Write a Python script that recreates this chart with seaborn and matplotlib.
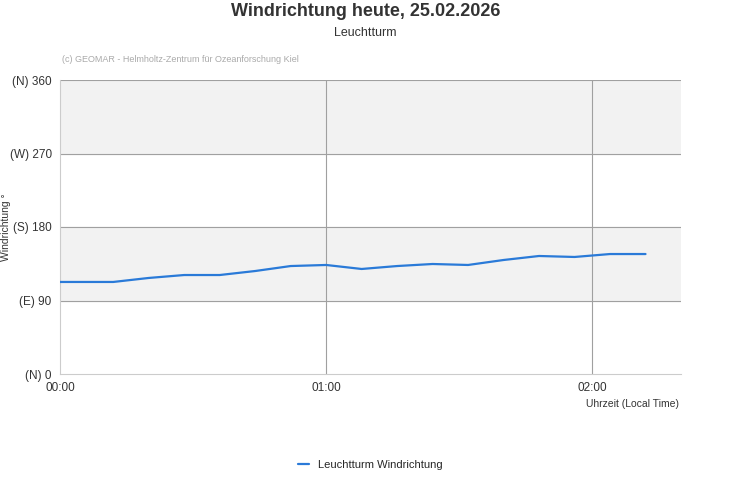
import pandas as pd
import seaborn as sns
from matplotlib import pyplot as plt

sns.set_style("white")
plt.rcParams['font.family'] = ['Liberation Sans', 'DejaVu Sans']

# minutes after 00:00 and wind direction in degrees
minutes = [0, 12, 20, 28, 36, 44, 52, 60, 68, 76, 84, 92, 100, 108, 116, 124, 132]
direction = [112.7, 112.7, 117.6, 121.2, 121.2, 126.1, 132.2, 133.5, 128.6, 132.2,
             134.7, 133.5, 139.6, 144.5, 143.3, 146.9, 146.9]
ytick_vals = [0, 90, 180, 270, 360]
ytick_labels = ["(N) 0", "(E) 90", "(S) 180", "(W) 270", "(N) 360"]
xtick_vals = [0, 60, 120]
xtick_labels = ["00:00", "01:00", "02:00"]

df = pd.DataFrame({"t": minutes, "dir": direction})

fig = plt.figure(figsize=(7.31, 5.0), dpi=100)
ax = fig.add_axes([60 / 731, 1 - 374 / 500, 621 / 731, 294 / 500])

ax.axhspan(270, 360, color="#f2f2f2", zorder=0)
ax.axhspan(90, 180, color="#f2f2f2", zorder=0)
for v in ytick_vals[1:]:
    ax.axhline(v, color="#a0a0a0", lw=0.8, zorder=1)
for v in xtick_vals[1:]:
    ax.axvline(v, color="#a0a0a0", lw=0.8, zorder=1)

sns.lineplot(data=df, x="t", y="dir", ax=ax, color="#2a7ad8", lw=1.6,
             label="Leuchtturm Windrichtung", zorder=3)

ax.set_xlim(0, 140)
ax.set_ylim(0, 360)
ax.set_yticks(ytick_vals, ytick_labels)
ax.set_xticks(xtick_vals, xtick_labels)
ax.tick_params(labelsize=8.5, colors="#333333", length=0, pad=6)
for s in ["top", "right"]:
    ax.spines[s].set_visible(False)
ax.spines["left"].set_color("#cccccc")
ax.spines["bottom"].set_color("#cccccc")
ax.set_xlabel("")
ax.set_ylabel("")
fig.text(6 / 731, 1 - 227 / 500, "Windrichtung °", rotation=90, ha="center",
         va="center", fontsize=7.5, color="#333333")

fig.text(0.5, 1 - 12 / 500, "Windrichtung heute, 25.02.2026", ha="center",
         va="center", fontsize=13, fontweight="bold", color="#333333")
fig.text(0.5, 1 - 33 / 500, "Leuchtturm", ha="center", va="center",
         fontsize=9, color="#333333")
fig.text(62 / 731, 1 - 60 / 500, "(c) GEOMAR - Helmholtz-Zentrum für Ozeanforschung Kiel",
         fontsize=6.5, color="#aaaaaa", va="center")
fig.text(679 / 731, 1 - 404 / 500, "Uhrzeit (Local Time)", ha="right",
         va="center", fontsize=7.5, color="#333333")

leg = ax.legend(loc="center", bbox_to_anchor=(0.5, -0.31), frameon=False,
                fontsize=8, handlelength=1)
fig.savefig("out.png", dpi=100)
